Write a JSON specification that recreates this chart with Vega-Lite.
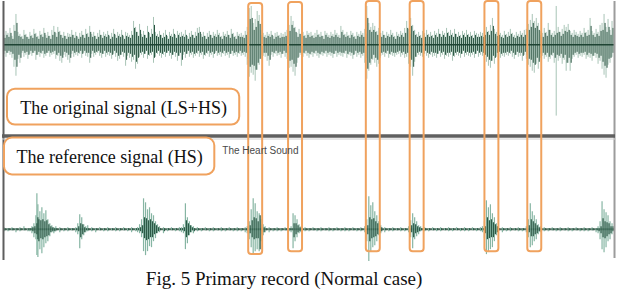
{
"$schema": "https://vega.github.io/schema/vega-lite/v6.json",
"width": 619,
"height": 290,
"autosize": {"type": "fit", "contains": "padding"},
"padding": 0,
"background": "white",
"config": {"view": {"stroke": null}},
"resolve": {"scale": {"y": "independent"}},
"datasets": {
"top": [
{"t":2,"hi":10,"lo":-9,"rh":7,"rl":-6},{"t":4,"hi":14,"lo":-12,"rh":10,"rl":-8},{"t":6,"hi":12,"lo":-8,"rh":8,"rl":-6},{"t":8,"hi":17,"lo":-10,"rh":12,"rl":-7},{"t":10,"hi":9,"lo":-13,"rh":6,"rl":-9},{"t":12,"hi":20,"lo":-22,"rh":14,"rl":-15},{"t":14,"hi":31,"lo":-31,"rh":22,"rl":-22},{"t":16,"hi":13,"lo":-14,"rh":9,"rl":-10},{"t":18,"hi":11,"lo":-18,"rh":8,"rl":-13},{"t":20,"hi":9,"lo":-8,"rh":6,"rl":-6},
{"t":22,"hi":15,"lo":-12,"rh":10,"rl":-8},{"t":24,"hi":11,"lo":-10,"rh":8,"rl":-7},{"t":26,"hi":8,"lo":-14,"rh":6,"rl":-10},{"t":28,"hi":13,"lo":-9,"rh":9,"rl":-6},{"t":30,"hi":10,"lo":-11,"rh":7,"rl":-8},{"t":32,"hi":16,"lo":-8,"rh":11,"rl":-6},{"t":34,"hi":12,"lo":-15,"rh":8,"rl":-10},{"t":36,"hi":9,"lo":-10,"rh":6,"rl":-7},{"t":38,"hi":14,"lo":-12,"rh":10,"rl":-8},{"t":40,"hi":11,"lo":-9,"rh":8,"rl":-6},
{"t":42,"hi":17,"lo":-13,"rh":12,"rl":-9},{"t":44,"hi":10,"lo":-11,"rh":7,"rl":-8},{"t":46,"hi":13,"lo":-8,"rh":9,"rl":-6},{"t":48,"hi":9,"lo":-12,"rh":6,"rl":-8},{"t":50,"hi":15,"lo":-10,"rh":10,"rl":-7},{"t":52,"hi":19,"lo":-9,"rh":13,"rl":-6},{"t":54,"hi":12,"lo":-14,"rh":8,"rl":-10},{"t":56,"hi":18,"lo":-11,"rh":13,"rl":-8},{"t":58,"hi":14,"lo":-16,"rh":10,"rl":-11},{"t":60,"hi":10,"lo":-18,"rh":7,"rl":-13},
{"t":62,"hi":13,"lo":-10,"rh":9,"rl":-7},{"t":64,"hi":9,"lo":-12,"rh":6,"rl":-8},{"t":66,"hi":12,"lo":-15,"rh":8,"rl":-10},{"t":68,"hi":11,"lo":-18,"rh":8,"rl":-13},{"t":70,"hi":15,"lo":-9,"rh":10,"rl":-6},{"t":72,"hi":10,"lo":-12,"rh":7,"rl":-8},{"t":74,"hi":13,"lo":-10,"rh":9,"rl":-7},{"t":76,"hi":8,"lo":-11,"rh":6,"rl":-8},{"t":78,"hi":12,"lo":-9,"rh":8,"rl":-6},{"t":80,"hi":14,"lo":-13,"rh":10,"rl":-9},
{"t":82,"hi":10,"lo":-8,"rh":7,"rl":-6},{"t":84,"hi":16,"lo":-11,"rh":11,"rl":-8},{"t":86,"hi":12,"lo":-12,"rh":8,"rl":-8},{"t":88,"hi":19,"lo":-18,"rh":13,"rl":-13},{"t":90,"hi":11,"lo":-9,"rh":8,"rl":-6},{"t":92,"hi":13,"lo":-12,"rh":9,"rl":-8},{"t":94,"hi":9,"lo":-10,"rh":6,"rl":-7},{"t":96,"hi":12,"lo":-8,"rh":8,"rl":-6},{"t":98,"hi":15,"lo":-11,"rh":10,"rl":-8},{"t":100,"hi":10,"lo":-13,"rh":7,"rl":-9},
{"t":102,"hi":13,"lo":-9,"rh":9,"rl":-6},{"t":104,"hi":11,"lo":-12,"rh":8,"rl":-8},{"t":106,"hi":14,"lo":-10,"rh":10,"rl":-7},{"t":108,"hi":9,"lo":-11,"rh":6,"rl":-8},{"t":110,"hi":12,"lo":-14,"rh":8,"rl":-10},{"t":112,"hi":16,"lo":-9,"rh":11,"rl":-6},{"t":114,"hi":10,"lo":-12,"rh":7,"rl":-8},{"t":116,"hi":13,"lo":-16,"rh":9,"rl":-11},{"t":118,"hi":11,"lo":-14,"rh":8,"rl":-10},{"t":120,"hi":15,"lo":-10,"rh":10,"rl":-7},
{"t":122,"hi":9,"lo":-12,"rh":6,"rl":-8},{"t":124,"hi":13,"lo":-21,"rh":9,"rl":-15},{"t":126,"hi":12,"lo":-11,"rh":8,"rl":-8},{"t":128,"hi":10,"lo":-13,"rh":7,"rl":-9},{"t":130,"hi":14,"lo":-17,"rh":10,"rl":-12},{"t":132,"hi":24,"lo":-15,"rh":17,"rl":-10},{"t":134,"hi":18,"lo":-24,"rh":13,"rl":-17},{"t":136,"hi":13,"lo":-19,"rh":9,"rl":-13},{"t":138,"hi":21,"lo":-12,"rh":15,"rl":-8},{"t":140,"hi":11,"lo":-10,"rh":8,"rl":-7},
{"t":142,"hi":14,"lo":-13,"rh":10,"rl":-9},{"t":144,"hi":10,"lo":-9,"rh":7,"rl":-6},{"t":146,"hi":19,"lo":-14,"rh":13,"rl":-10},{"t":148,"hi":12,"lo":-11,"rh":8,"rl":-8},{"t":150,"hi":16,"lo":-10,"rh":11,"rl":-7},{"t":152,"hi":28,"lo":-18,"rh":20,"rl":-13},{"t":154,"hi":13,"lo":-12,"rh":9,"rl":-8},{"t":156,"hi":11,"lo":-9,"rh":8,"rl":-6},{"t":158,"hi":14,"lo":-11,"rh":10,"rl":-8},{"t":160,"hi":10,"lo":-13,"rh":7,"rl":-9},
{"t":162,"hi":12,"lo":-10,"rh":8,"rl":-7},{"t":164,"hi":15,"lo":-12,"rh":10,"rl":-8},{"t":166,"hi":9,"lo":-8,"rh":6,"rl":-6},{"t":168,"hi":13,"lo":-11,"rh":9,"rl":-8},{"t":170,"hi":11,"lo":-14,"rh":8,"rl":-10},{"t":172,"hi":16,"lo":-10,"rh":11,"rl":-7},{"t":174,"hi":10,"lo":-12,"rh":7,"rl":-8},{"t":176,"hi":14,"lo":-16,"rh":10,"rl":-11},{"t":178,"hi":12,"lo":-11,"rh":8,"rl":-8},{"t":180,"hi":13,"lo":-21,"rh":9,"rl":-15},
{"t":182,"hi":11,"lo":-10,"rh":8,"rl":-7},{"t":184,"hi":15,"lo":-13,"rh":10,"rl":-9},{"t":186,"hi":9,"lo":-9,"rh":6,"rl":-6},{"t":188,"hi":12,"lo":-12,"rh":8,"rl":-8},{"t":190,"hi":14,"lo":-10,"rh":10,"rl":-7},{"t":192,"hi":10,"lo":-13,"rh":7,"rl":-9},{"t":194,"hi":13,"lo":-11,"rh":9,"rl":-8},{"t":196,"hi":17,"lo":-9,"rh":12,"rl":-6},{"t":198,"hi":18,"lo":-12,"rh":13,"rl":-8},{"t":200,"hi":11,"lo":-10,"rh":8,"rl":-7},
{"t":202,"hi":13,"lo":-14,"rh":9,"rl":-10},{"t":204,"hi":9,"lo":-11,"rh":6,"rl":-8},{"t":206,"hi":12,"lo":-9,"rh":8,"rl":-6},{"t":208,"hi":14,"lo":-12,"rh":10,"rl":-8},{"t":210,"hi":10,"lo":-10,"rh":7,"rl":-7},{"t":212,"hi":13,"lo":-13,"rh":9,"rl":-9},{"t":214,"hi":11,"lo":-8,"rh":8,"rl":-6},{"t":216,"hi":15,"lo":-11,"rh":10,"rl":-8},{"t":218,"hi":12,"lo":-10,"rh":8,"rl":-7},{"t":220,"hi":9,"lo":-12,"rh":6,"rl":-8},
{"t":222,"hi":13,"lo":-9,"rh":9,"rl":-6},{"t":224,"hi":11,"lo":-11,"rh":8,"rl":-8},{"t":226,"hi":14,"lo":-10,"rh":10,"rl":-7},{"t":228,"hi":10,"lo":-13,"rh":7,"rl":-9},{"t":230,"hi":16,"lo":-9,"rh":11,"rl":-6},{"t":232,"hi":12,"lo":-11,"rh":8,"rl":-8},{"t":234,"hi":9,"lo":-10,"rh":6,"rl":-7},{"t":236,"hi":13,"lo":-12,"rh":9,"rl":-8},{"t":238,"hi":11,"lo":-9,"rh":8,"rl":-6},{"t":240,"hi":12,"lo":-11,"rh":8,"rl":-8},
{"t":242,"hi":10,"lo":-10,"rh":7,"rl":-7},{"t":244,"hi":14,"lo":-12,"rh":10,"rl":-8},{"t":246,"hi":18,"lo":-20,"rh":13,"rl":-14},{"t":248,"hi":37,"lo":-32,"rh":26,"rl":-22},{"t":250,"hi":39,"lo":-28,"rh":27,"rl":-20},{"t":252,"hi":22,"lo":-30,"rh":15,"rl":-21},{"t":254,"hi":26,"lo":-36,"rh":18,"rl":-25},{"t":256,"hi":34,"lo":-25,"rh":24,"rl":-18},{"t":258,"hi":30,"lo":-20,"rh":21,"rl":-14},{"t":260,"hi":15,"lo":-14,"rh":10,"rl":-10},
{"t":262,"hi":12,"lo":-11,"rh":8,"rl":-8},{"t":264,"hi":10,"lo":-12,"rh":7,"rl":-8},{"t":266,"hi":13,"lo":-16,"rh":9,"rl":-11},{"t":268,"hi":11,"lo":-21,"rh":8,"rl":-15},{"t":270,"hi":14,"lo":-10,"rh":10,"rl":-7},{"t":272,"hi":9,"lo":-12,"rh":6,"rl":-8},{"t":274,"hi":12,"lo":-9,"rh":8,"rl":-6},{"t":276,"hi":13,"lo":-11,"rh":9,"rl":-8},{"t":278,"hi":10,"lo":-10,"rh":7,"rl":-7},{"t":280,"hi":12,"lo":-13,"rh":8,"rl":-9},
{"t":282,"hi":11,"lo":-9,"rh":8,"rl":-6},{"t":284,"hi":13,"lo":-12,"rh":9,"rl":-8},{"t":286,"hi":15,"lo":-14,"rh":10,"rl":-10},{"t":288,"hi":20,"lo":-23,"rh":14,"rl":-16},{"t":290,"hi":29,"lo":-22,"rh":20,"rl":-15},{"t":292,"hi":24,"lo":-27,"rh":17,"rl":-19},{"t":294,"hi":18,"lo":-31,"rh":13,"rl":-22},{"t":296,"hi":12,"lo":-18,"rh":8,"rl":-13},{"t":298,"hi":16,"lo":-12,"rh":11,"rl":-8},{"t":300,"hi":11,"lo":-10,"rh":8,"rl":-7},
{"t":302,"hi":13,"lo":-12,"rh":9,"rl":-8},{"t":304,"hi":10,"lo":-9,"rh":7,"rl":-6},{"t":306,"hi":14,"lo":-11,"rh":10,"rl":-8},{"t":308,"hi":12,"lo":-13,"rh":8,"rl":-9},{"t":310,"hi":13,"lo":-10,"rh":9,"rl":-7},{"t":312,"hi":10,"lo":-12,"rh":7,"rl":-8},{"t":314,"hi":12,"lo":-9,"rh":8,"rl":-6},{"t":316,"hi":15,"lo":-11,"rh":10,"rl":-8},{"t":318,"hi":11,"lo":-13,"rh":8,"rl":-9},{"t":320,"hi":13,"lo":-10,"rh":9,"rl":-7},
{"t":322,"hi":9,"lo":-11,"rh":6,"rl":-8},{"t":324,"hi":14,"lo":-9,"rh":10,"rl":-6},{"t":326,"hi":12,"lo":-12,"rh":8,"rl":-8},{"t":328,"hi":10,"lo":-10,"rh":7,"rl":-7},{"t":330,"hi":13,"lo":-11,"rh":9,"rl":-8},{"t":332,"hi":11,"lo":-13,"rh":8,"rl":-9},{"t":334,"hi":15,"lo":-9,"rh":10,"rl":-6},{"t":336,"hi":12,"lo":-12,"rh":8,"rl":-8},{"t":338,"hi":10,"lo":-10,"rh":7,"rl":-7},{"t":340,"hi":19,"lo":-11,"rh":13,"rl":-8},
{"t":342,"hi":15,"lo":-12,"rh":10,"rl":-8},{"t":344,"hi":11,"lo":-9,"rh":8,"rl":-6},{"t":346,"hi":13,"lo":-13,"rh":9,"rl":-9},{"t":348,"hi":10,"lo":-10,"rh":7,"rl":-7},{"t":350,"hi":14,"lo":-11,"rh":10,"rl":-8},{"t":352,"hi":12,"lo":-14,"rh":8,"rl":-10},{"t":354,"hi":9,"lo":-9,"rh":6,"rl":-6},{"t":356,"hi":13,"lo":-12,"rh":9,"rl":-8},{"t":358,"hi":11,"lo":-10,"rh":8,"rl":-7},{"t":360,"hi":14,"lo":-13,"rh":10,"rl":-9},
{"t":362,"hi":12,"lo":-11,"rh":8,"rl":-8},{"t":364,"hi":16,"lo":-18,"rh":11,"rl":-13},{"t":366,"hi":39,"lo":-34,"rh":27,"rl":-24},{"t":368,"hi":22,"lo":-26,"rh":15,"rl":-18},{"t":370,"hi":18,"lo":-20,"rh":13,"rl":-14},{"t":372,"hi":22,"lo":-15,"rh":15,"rl":-10},{"t":374,"hi":19,"lo":-18,"rh":13,"rl":-13},{"t":376,"hi":14,"lo":-22,"rh":10,"rl":-15},{"t":378,"hi":17,"lo":-19,"rh":12,"rl":-13},{"t":380,"hi":12,"lo":-11,"rh":8,"rl":-8},
{"t":382,"hi":14,"lo":-10,"rh":10,"rl":-7},{"t":384,"hi":10,"lo":-12,"rh":7,"rl":-8},{"t":386,"hi":13,"lo":-9,"rh":9,"rl":-6},{"t":388,"hi":11,"lo":-13,"rh":8,"rl":-9},{"t":390,"hi":15,"lo":-10,"rh":10,"rl":-7},{"t":392,"hi":12,"lo":-11,"rh":8,"rl":-8},{"t":394,"hi":9,"lo":-12,"rh":6,"rl":-8},{"t":396,"hi":13,"lo":-10,"rh":9,"rl":-7},{"t":398,"hi":11,"lo":-9,"rh":8,"rl":-6},{"t":400,"hi":14,"lo":-12,"rh":10,"rl":-8},
{"t":402,"hi":12,"lo":-10,"rh":8,"rl":-7},{"t":404,"hi":17,"lo":-13,"rh":12,"rl":-9},{"t":406,"hi":24,"lo":-12,"rh":17,"rl":-8},{"t":408,"hi":16,"lo":-19,"rh":11,"rl":-13},{"t":410,"hi":27,"lo":-22,"rh":19,"rl":-15},{"t":412,"hi":20,"lo":-31,"rh":14,"rl":-22},{"t":414,"hi":15,"lo":-17,"rh":10,"rl":-12},{"t":416,"hi":11,"lo":-12,"rh":8,"rl":-8},{"t":418,"hi":13,"lo":-10,"rh":9,"rl":-7},{"t":420,"hi":10,"lo":-11,"rh":7,"rl":-8},
{"t":422,"hi":14,"lo":-12,"rh":10,"rl":-8},{"t":424,"hi":12,"lo":-9,"rh":8,"rl":-6},{"t":426,"hi":15,"lo":-11,"rh":10,"rl":-8},{"t":428,"hi":11,"lo":-13,"rh":8,"rl":-9},{"t":430,"hi":13,"lo":-10,"rh":9,"rl":-7},{"t":432,"hi":10,"lo":-12,"rh":7,"rl":-8},{"t":434,"hi":14,"lo":-11,"rh":10,"rl":-8},{"t":436,"hi":12,"lo":-13,"rh":8,"rl":-9},{"t":438,"hi":16,"lo":-9,"rh":11,"rl":-6},{"t":440,"hi":11,"lo":-12,"rh":8,"rl":-8},
{"t":442,"hi":14,"lo":-10,"rh":10,"rl":-7},{"t":444,"hi":12,"lo":-14,"rh":8,"rl":-10},{"t":446,"hi":17,"lo":-11,"rh":12,"rl":-8},{"t":448,"hi":13,"lo":-12,"rh":9,"rl":-8},{"t":450,"hi":15,"lo":-10,"rh":10,"rl":-7},{"t":452,"hi":12,"lo":-16,"rh":8,"rl":-11},{"t":454,"hi":16,"lo":-12,"rh":11,"rl":-8},{"t":456,"hi":11,"lo":-10,"rh":8,"rl":-7},{"t":458,"hi":13,"lo":-11,"rh":9,"rl":-8},{"t":460,"hi":10,"lo":-13,"rh":7,"rl":-9},
{"t":462,"hi":14,"lo":-9,"rh":10,"rl":-6},{"t":464,"hi":12,"lo":-12,"rh":8,"rl":-8},{"t":466,"hi":15,"lo":-10,"rh":10,"rl":-7},{"t":468,"hi":11,"lo":-11,"rh":8,"rl":-8},{"t":470,"hi":13,"lo":-12,"rh":9,"rl":-8},{"t":472,"hi":10,"lo":-10,"rh":7,"rl":-7},{"t":474,"hi":14,"lo":-13,"rh":10,"rl":-9},{"t":476,"hi":12,"lo":-9,"rh":8,"rl":-6},{"t":478,"hi":11,"lo":-12,"rh":8,"rl":-8},{"t":480,"hi":13,"lo":-10,"rh":9,"rl":-7},
{"t":482,"hi":12,"lo":-11,"rh":8,"rl":-8},{"t":484,"hi":14,"lo":-14,"rh":10,"rl":-10},{"t":486,"hi":18,"lo":-17,"rh":13,"rl":-12},{"t":488,"hi":14,"lo":-21,"rh":10,"rl":-15},{"t":490,"hi":20,"lo":-23,"rh":14,"rl":-16},{"t":492,"hi":27,"lo":-16,"rh":19,"rl":-11},{"t":494,"hi":16,"lo":-19,"rh":11,"rl":-13},{"t":496,"hi":13,"lo":-12,"rh":9,"rl":-8},{"t":498,"hi":15,"lo":-10,"rh":10,"rl":-7},{"t":500,"hi":12,"lo":-13,"rh":8,"rl":-9},
{"t":502,"hi":10,"lo":-11,"rh":7,"rl":-8},{"t":504,"hi":14,"lo":-12,"rh":10,"rl":-8},{"t":506,"hi":11,"lo":-10,"rh":8,"rl":-7},{"t":508,"hi":13,"lo":-11,"rh":9,"rl":-8},{"t":510,"hi":16,"lo":-9,"rh":11,"rl":-6},{"t":512,"hi":12,"lo":-12,"rh":8,"rl":-8},{"t":514,"hi":10,"lo":-14,"rh":7,"rl":-10},{"t":516,"hi":13,"lo":-10,"rh":9,"rl":-7},{"t":518,"hi":11,"lo":-12,"rh":8,"rl":-8},{"t":520,"hi":14,"lo":-11,"rh":10,"rl":-8},
{"t":522,"hi":12,"lo":-16,"rh":8,"rl":-11},{"t":524,"hi":15,"lo":-10,"rh":10,"rl":-7},{"t":526,"hi":16,"lo":-14,"rh":11,"rl":-10},{"t":528,"hi":21,"lo":-20,"rh":15,"rl":-14},{"t":530,"hi":25,"lo":-22,"rh":18,"rl":-15},{"t":532,"hi":31,"lo":-26,"rh":22,"rl":-18},{"t":534,"hi":24,"lo":-28,"rh":17,"rl":-20},{"t":536,"hi":27,"lo":-19,"rh":19,"rl":-13},{"t":538,"hi":22,"lo":-24,"rh":15,"rl":-17},{"t":540,"hi":14,"lo":-13,"rh":10,"rl":-9},
{"t":542,"hi":12,"lo":-11,"rh":8,"rl":-8},{"t":544,"hi":17,"lo":-14,"rh":12,"rl":-10},{"t":546,"hi":13,"lo":-12,"rh":9,"rl":-8},{"t":548,"hi":22,"lo":-17,"rh":15,"rl":-12},{"t":550,"hi":15,"lo":-14,"rh":10,"rl":-10},{"t":552,"hi":12,"lo":-11,"rh":8,"rl":-8},{"t":554,"hi":14,"lo":-18,"rh":10,"rl":-13},{"t":556,"hi":39,"lo":-71,"rh":12,"rl":-10},{"t":558,"hi":18,"lo":-16,"rh":13,"rl":-11},{"t":560,"hi":13,"lo":-13,"rh":9,"rl":-9},
{"t":562,"hi":16,"lo":-19,"rh":11,"rl":-13},{"t":564,"hi":20,"lo":-15,"rh":14,"rl":-10},{"t":566,"hi":18,"lo":-26,"rh":13,"rl":-18},{"t":568,"hi":21,"lo":-18,"rh":15,"rl":-13},{"t":570,"hi":14,"lo":-26,"rh":10,"rl":-18},{"t":572,"hi":12,"lo":-14,"rh":8,"rl":-10},{"t":574,"hi":15,"lo":-12,"rh":10,"rl":-8},{"t":576,"hi":13,"lo":-10,"rh":9,"rl":-7},{"t":578,"hi":11,"lo":-13,"rh":8,"rl":-9},{"t":580,"hi":14,"lo":-11,"rh":10,"rl":-8},
{"t":582,"hi":12,"lo":-12,"rh":8,"rl":-8},{"t":584,"hi":17,"lo":-10,"rh":12,"rl":-7},{"t":586,"hi":13,"lo":-14,"rh":9,"rl":-10},{"t":588,"hi":15,"lo":-12,"rh":10,"rl":-8},{"t":590,"hi":27,"lo":-13,"rh":19,"rl":-9},{"t":592,"hi":14,"lo":-16,"rh":10,"rl":-11},{"t":594,"hi":12,"lo":-11,"rh":8,"rl":-8},{"t":596,"hi":16,"lo":-13,"rh":11,"rl":-9},{"t":598,"hi":13,"lo":-19,"rh":9,"rl":-13},{"t":600,"hi":20,"lo":-16,"rh":14,"rl":-11},
{"t":602,"hi":22,"lo":-24,"rh":15,"rl":-17},{"t":604,"hi":31,"lo":-30,"rh":22,"rl":-21},{"t":606,"hi":18,"lo":-33,"rh":13,"rl":-23},{"t":608,"hi":26,"lo":-20,"rh":18,"rl":-14},{"t":610,"hi":15,"lo":-18,"rh":10,"rl":-13},{"t":612,"hi":24,"lo":-12,"rh":17,"rl":-8}
],
"bottom": [
{"t":2,"hi":2,"lo":-2,"rh":1,"rl":-1},{"t":6,"hi":1,"lo":-2,"rh":1,"rl":-1},{"t":10,"hi":2,"lo":-1,"rh":1,"rl":-1},{"t":14,"hi":1,"lo":-3,"rh":1,"rl":-1},{"t":18,"hi":2,"lo":-2,"rh":1,"rl":-1},{"t":22,"hi":3,"lo":-1,"rh":1,"rl":-1},{"t":26,"hi":1,"lo":-2,"rh":1,"rl":-1},
{"t":28,"hi":1,"lo":-2,"rh":1,"rl":-1},{"t":30,"hi":3,"lo":-4,"rh":2,"rl":-2},{"t":32,"hi":6,"lo":-8,"rh":3,"rl":-4},{"t":34,"hi":14,"lo":-10,"rh":6,"rl":-5},{"t":35,"hi":36,"lo":-26,"rh":12,"rl":-10},{"t":36,"hi":25,"lo":-28,"rh":10,"rl":-12},{"t":38,"hi":18,"lo":-20,"rh":9,"rl":-9},{"t":40,"hi":22,"lo":-24,"rh":10,"rl":-10},{"t":42,"hi":16,"lo":-18,"rh":8,"rl":-8},{"t":44,"hi":19,"lo":-14,"rh":9,"rl":-7},{"t":46,"hi":10,"lo":-12,"rh":5,"rl":-6},{"t":48,"hi":6,"lo":-7,"rh":3,"rl":-3},{"t":50,"hi":4,"lo":-3,"rh":2,"rl":-2},{"t":52,"hi":2,"lo":-4,"rh":1,"rl":-2},{"t":54,"hi":3,"lo":-2,"rh":1,"rl":-1},
{"t":58,"hi":2,"lo":-3,"rh":1,"rl":-1},{"t":62,"hi":1,"lo":-2,"rh":1,"rl":-1},{"t":66,"hi":2,"lo":-2,"rh":1,"rl":-1},{"t":70,"hi":1,"lo":-1,"rh":1,"rl":-1},
{"t":74,"hi":2,"lo":-3,"rh":1,"rl":-1},{"t":76,"hi":6,"lo":-5,"rh":3,"rl":-2},{"t":78,"hi":15,"lo":-19,"rh":6,"rl":-8},{"t":80,"hi":12,"lo":-10,"rh":5,"rl":-5},{"t":82,"hi":5,"lo":-6,"rh":2,"rl":-3},{"t":84,"hi":3,"lo":-3,"rh":1,"rl":-1},{"t":86,"hi":4,"lo":-2,"rh":1,"rl":-1},
{"t":90,"hi":2,"lo":-2,"rh":1,"rl":-1},{"t":94,"hi":1,"lo":-3,"rh":1,"rl":-1},{"t":98,"hi":2,"lo":-1,"rh":1,"rl":-1},{"t":102,"hi":1,"lo":-2,"rh":1,"rl":-1},{"t":106,"hi":2,"lo":-2,"rh":1,"rl":-1},{"t":110,"hi":1,"lo":-1,"rh":1,"rl":-1},{"t":114,"hi":2,"lo":-2,"rh":1,"rl":-1},{"t":118,"hi":1,"lo":-2,"rh":1,"rl":-1},{"t":122,"hi":2,"lo":-1,"rh":1,"rl":-1},{"t":126,"hi":1,"lo":-2,"rh":1,"rl":-1},{"t":130,"hi":2,"lo":-3,"rh":1,"rl":-1},{"t":134,"hi":1,"lo":-2,"rh":1,"rl":-1},
{"t":136,"hi":2,"lo":-3,"rh":1,"rl":-1},{"t":138,"hi":5,"lo":-4,"rh":2,"rl":-2},{"t":140,"hi":10,"lo":-8,"rh":4,"rl":-4},{"t":142,"hi":31,"lo":-22,"rh":12,"rl":-9},{"t":144,"hi":27,"lo":-26,"rh":11,"rl":-11},{"t":146,"hi":20,"lo":-22,"rh":9,"rl":-10},{"t":148,"hi":22,"lo":-17,"rh":10,"rl":-8},{"t":150,"hi":16,"lo":-18,"rh":8,"rl":-8},{"t":152,"hi":14,"lo":-12,"rh":6,"rl":-5},{"t":154,"hi":8,"lo":-9,"rh":4,"rl":-4},{"t":156,"hi":5,"lo":-4,"rh":2,"rl":-2},{"t":158,"hi":3,"lo":-3,"rh":1,"rl":-1},
{"t":162,"hi":2,"lo":-4,"rh":1,"rl":-2},{"t":166,"hi":1,"lo":-2,"rh":1,"rl":-1},{"t":170,"hi":2,"lo":-1,"rh":1,"rl":-1},{"t":174,"hi":1,"lo":-2,"rh":1,"rl":-1},{"t":178,"hi":2,"lo":-2,"rh":1,"rl":-1},
{"t":180,"hi":2,"lo":-3,"rh":1,"rl":-1},{"t":182,"hi":5,"lo":-4,"rh":2,"rl":-2},{"t":184,"hi":26,"lo":-20,"rh":9,"rl":-8},{"t":186,"hi":12,"lo":-14,"rh":6,"rl":-6},{"t":188,"hi":8,"lo":-6,"rh":4,"rl":-3},{"t":190,"hi":4,"lo":-3,"rh":2,"rl":-1},{"t":192,"hi":3,"lo":-4,"rh":1,"rl":-2},
{"t":196,"hi":2,"lo":-2,"rh":1,"rl":-1},{"t":200,"hi":1,"lo":-2,"rh":1,"rl":-1},{"t":204,"hi":2,"lo":-1,"rh":1,"rl":-1},{"t":208,"hi":1,"lo":-2,"rh":1,"rl":-1},{"t":212,"hi":2,"lo":-2,"rh":1,"rl":-1},{"t":216,"hi":1,"lo":-1,"rh":1,"rl":-1},{"t":220,"hi":2,"lo":-2,"rh":1,"rl":-1},{"t":224,"hi":1,"lo":-2,"rh":1,"rl":-1},{"t":228,"hi":2,"lo":-1,"rh":1,"rl":-1},{"t":232,"hi":1,"lo":-2,"rh":1,"rl":-1},{"t":236,"hi":2,"lo":-2,"rh":1,"rl":-1},{"t":240,"hi":1,"lo":-2,"rh":1,"rl":-1},{"t":244,"hi":2,"lo":-3,"rh":1,"rl":-1},
{"t":246,"hi":3,"lo":-4,"rh":1,"rl":-2},{"t":248,"hi":8,"lo":-10,"rh":4,"rl":-4},{"t":250,"hi":20,"lo":-18,"rh":9,"rl":-8},{"t":252,"hi":31,"lo":-24,"rh":12,"rl":-10},{"t":254,"hi":26,"lo":-22,"rh":11,"rl":-9},{"t":256,"hi":18,"lo":-20,"rh":8,"rl":-9},{"t":258,"hi":16,"lo":-22,"rh":14,"rl":-20},{"t":260,"hi":10,"lo":-12,"rh":5,"rl":-5},{"t":262,"hi":5,"lo":-6,"rh":2,"rl":-3},{"t":264,"hi":3,"lo":-3,"rh":1,"rl":-1},
{"t":268,"hi":2,"lo":-3,"rh":1,"rl":-1},{"t":272,"hi":1,"lo":-2,"rh":1,"rl":-1},{"t":276,"hi":2,"lo":-2,"rh":1,"rl":-1},{"t":280,"hi":1,"lo":-2,"rh":1,"rl":-1},{"t":284,"hi":2,"lo":-1,"rh":1,"rl":-1},{"t":288,"hi":1,"lo":-2,"rh":1,"rl":-1},
{"t":290,"hi":3,"lo":-3,"rh":1,"rl":-1},{"t":292,"hi":16,"lo":-19,"rh":6,"rl":-8},{"t":294,"hi":14,"lo":-12,"rh":6,"rl":-5},{"t":296,"hi":10,"lo":-8,"rh":4,"rl":-3},{"t":298,"hi":5,"lo":-4,"rh":2,"rl":-2},{"t":300,"hi":3,"lo":-3,"rh":1,"rl":-1},
{"t":304,"hi":2,"lo":-2,"rh":1,"rl":-1},{"t":308,"hi":1,"lo":-2,"rh":1,"rl":-1},{"t":312,"hi":2,"lo":-1,"rh":1,"rl":-1},{"t":316,"hi":1,"lo":-2,"rh":1,"rl":-1},{"t":320,"hi":2,"lo":-2,"rh":1,"rl":-1},{"t":324,"hi":1,"lo":-1,"rh":1,"rl":-1},{"t":328,"hi":2,"lo":-2,"rh":1,"rl":-1},{"t":332,"hi":1,"lo":-2,"rh":1,"rl":-1},{"t":336,"hi":2,"lo":-1,"rh":1,"rl":-1},{"t":340,"hi":1,"lo":-2,"rh":1,"rl":-1},{"t":344,"hi":2,"lo":-2,"rh":1,"rl":-1},{"t":348,"hi":1,"lo":-2,"rh":1,"rl":-1},{"t":352,"hi":2,"lo":-1,"rh":1,"rl":-1},{"t":356,"hi":1,"lo":-2,"rh":1,"rl":-1},{"t":360,"hi":2,"lo":-2,"rh":1,"rl":-1},
{"t":364,"hi":3,"lo":-3,"rh":1,"rl":-1},{"t":366,"hi":10,"lo":-12,"rh":4,"rl":-5},{"t":368,"hi":33,"lo":-32,"rh":12,"rl":-12},{"t":370,"hi":24,"lo":-22,"rh":10,"rl":-9},{"t":372,"hi":27,"lo":-18,"rh":11,"rl":-8},{"t":374,"hi":18,"lo":-16,"rh":8,"rl":-7},{"t":376,"hi":14,"lo":-12,"rh":6,"rl":-5},{"t":378,"hi":8,"lo":-6,"rh":3,"rl":-3},{"t":380,"hi":4,"lo":-4,"rh":2,"rl":-2},
{"t":384,"hi":2,"lo":-3,"rh":1,"rl":-1},{"t":388,"hi":1,"lo":-2,"rh":1,"rl":-1},{"t":392,"hi":2,"lo":-2,"rh":1,"rl":-1},{"t":396,"hi":1,"lo":-1,"rh":1,"rl":-1},{"t":400,"hi":2,"lo":-2,"rh":1,"rl":-1},{"t":404,"hi":1,"lo":-2,"rh":1,"rl":-1},
{"t":408,"hi":3,"lo":-3,"rh":1,"rl":-1},{"t":410,"hi":9,"lo":-8,"rh":4,"rl":-3},{"t":412,"hi":16,"lo":-19,"rh":6,"rl":-8},{"t":414,"hi":12,"lo":-10,"rh":5,"rl":-4},{"t":416,"hi":8,"lo":-7,"rh":3,"rl":-3},{"t":418,"hi":4,"lo":-5,"rh":2,"rl":-2},{"t":420,"hi":3,"lo":-2,"rh":1,"rl":-1},
{"t":424,"hi":2,"lo":-2,"rh":1,"rl":-1},{"t":428,"hi":1,"lo":-2,"rh":1,"rl":-1},{"t":432,"hi":2,"lo":-1,"rh":1,"rl":-1},{"t":436,"hi":1,"lo":-2,"rh":1,"rl":-1},{"t":440,"hi":2,"lo":-2,"rh":1,"rl":-1},{"t":444,"hi":1,"lo":-1,"rh":1,"rl":-1},{"t":448,"hi":2,"lo":-2,"rh":1,"rl":-1},{"t":452,"hi":1,"lo":-2,"rh":1,"rl":-1},{"t":456,"hi":2,"lo":-1,"rh":1,"rl":-1},{"t":460,"hi":1,"lo":-2,"rh":1,"rl":-1},{"t":464,"hi":2,"lo":-2,"rh":1,"rl":-1},{"t":468,"hi":1,"lo":-2,"rh":1,"rl":-1},{"t":472,"hi":2,"lo":-1,"rh":1,"rl":-1},{"t":476,"hi":1,"lo":-2,"rh":1,"rl":-1},{"t":480,"hi":2,"lo":-2,"rh":1,"rl":-1},
{"t":482,"hi":3,"lo":-3,"rh":1,"rl":-1},{"t":484,"hi":8,"lo":-9,"rh":3,"rl":-4},{"t":486,"hi":29,"lo":-25,"rh":12,"rl":-10},{"t":488,"hi":22,"lo":-22,"rh":9,"rl":-9},{"t":490,"hi":25,"lo":-20,"rh":10,"rl":-8},{"t":492,"hi":16,"lo":-18,"rh":7,"rl":-8},{"t":494,"hi":12,"lo":-12,"rh":5,"rl":-5},{"t":496,"hi":6,"lo":-6,"rh":3,"rl":-3},{"t":498,"hi":3,"lo":-3,"rh":1,"rl":-1},
{"t":502,"hi":2,"lo":-3,"rh":1,"rl":-1},{"t":506,"hi":1,"lo":-2,"rh":1,"rl":-1},{"t":510,"hi":2,"lo":-2,"rh":1,"rl":-1},{"t":514,"hi":1,"lo":-1,"rh":1,"rl":-1},{"t":518,"hi":2,"lo":-2,"rh":1,"rl":-1},{"t":522,"hi":1,"lo":-2,"rh":1,"rl":-1},
{"t":526,"hi":3,"lo":-3,"rh":1,"rl":-1},{"t":528,"hi":10,"lo":-8,"rh":4,"rl":-3},{"t":530,"hi":26,"lo":-18,"rh":10,"rl":-7},{"t":532,"hi":18,"lo":-16,"rh":8,"rl":-7},{"t":534,"hi":14,"lo":-12,"rh":6,"rl":-5},{"t":536,"hi":10,"lo":-10,"rh":4,"rl":-4},{"t":538,"hi":5,"lo":-5,"rh":2,"rl":-2},{"t":540,"hi":3,"lo":-3,"rh":1,"rl":-1},
{"t":544,"hi":2,"lo":-2,"rh":1,"rl":-1},{"t":548,"hi":1,"lo":-2,"rh":1,"rl":-1},{"t":552,"hi":2,"lo":-1,"rh":1,"rl":-1},{"t":556,"hi":1,"lo":-2,"rh":1,"rl":-1},{"t":560,"hi":2,"lo":-2,"rh":1,"rl":-1},{"t":564,"hi":1,"lo":-1,"rh":1,"rl":-1},{"t":568,"hi":2,"lo":-2,"rh":1,"rl":-1},{"t":572,"hi":1,"lo":-2,"rh":1,"rl":-1},{"t":576,"hi":2,"lo":-1,"rh":1,"rl":-1},{"t":580,"hi":1,"lo":-2,"rh":1,"rl":-1},{"t":584,"hi":2,"lo":-2,"rh":1,"rl":-1},{"t":588,"hi":1,"lo":-2,"rh":1,"rl":-1},{"t":592,"hi":2,"lo":-1,"rh":1,"rl":-1},{"t":596,"hi":1,"lo":-3,"rh":1,"rl":-1},
{"t":598,"hi":3,"lo":-4,"rh":1,"rl":-2},{"t":600,"hi":8,"lo":-10,"rh":3,"rl":-4},{"t":602,"hi":28,"lo":-20,"rh":11,"rl":-8},{"t":604,"hi":20,"lo":-23,"rh":8,"rl":-9},{"t":606,"hi":17,"lo":-18,"rh":7,"rl":-7},{"t":608,"hi":14,"lo":-12,"rh":6,"rl":-5},{"t":610,"hi":8,"lo":-10,"rh":3,"rl":-4},{"t":612,"hi":6,"lo":-5,"rh":3,"rl":-2}
],
"bands": [
{"x0":247,"x1":261,"y0":2,"y1":254},
{"x0":287,"x1":301,"y0":1,"y1":251},
{"x0":365,"x1":379,"y0":0,"y1":251},
{"x0":409,"x1":423,"y0":0,"y1":251},
{"x0":484,"x1":498,"y0":0,"y1":251},
{"x0":527,"x1":541,"y0":0,"y1":251}
],
"labelBoxes": [
{"x0":5,"x1":238,"y0":88,"y1":124},
{"x0":2,"x1":213,"y0":137,"y1":174}
],
"serifLabels": [
{"x":122,"y":113,"text":"The original signal (LS+HS)"},
{"x":108,"y":163,"text":"The reference signal (HS)"}
]
},
"layer": [
{
"data": {"name": "top"},
"mark": {"type": "rule", "color": "#a8c4b6", "strokeWidth": 1},
"encoding": {
"x": {"field": "t", "type": "quantitative", "scale": {"domain": [0, 619], "nice": false, "zero": false}, "axis": null},
"y": {"field": "hi", "type": "quantitative", "scale": {"domain": [-246, 44], "nice": false, "zero": false}, "axis": null},
"y2": {"field": "lo"}
}
},
{
"data": {"name": "top"},
"mark": {"type": "rule", "color": "#2a5542", "strokeWidth": 1, "xOffset": 1},
"encoding": {
"x": {"field": "t", "type": "quantitative", "scale": {"domain": [0, 619], "nice": false, "zero": false}, "axis": null},
"y": {"field": "rh", "type": "quantitative", "scale": {"domain": [-246, 44], "nice": false, "zero": false}, "axis": null},
"y2": {"field": "rl"}
}
},
{
"data": {"values": [{"from": 2, "to": 615, "amp": 0}]},
"mark": {"type": "rule", "color": "#1f4434", "strokeWidth": 1.5},
"encoding": {
"x": {"field": "from", "type": "quantitative", "scale": {"domain": [0, 619], "nice": false, "zero": false}, "axis": null},
"x2": {"field": "to"},
"y": {"field": "amp", "type": "quantitative", "scale": {"domain": [-246, 44], "nice": false, "zero": false}, "axis": null}
}
},
{
"data": {"values": [{"from": 2, "to": 615, "amp": 0}]},
"mark": {"type": "rule", "color": "#4f6a5d", "strokeWidth": 2},
"encoding": {
"x": {"field": "from", "type": "quantitative", "scale": {"domain": [0, 619], "nice": false, "zero": false}, "axis": null},
"x2": {"field": "to"},
"y": {"field": "amp", "type": "quantitative", "scale": {"domain": [-61, 229], "nice": false, "zero": false}, "axis": null}
}
},
{
"data": {"name": "bottom"},
"mark": {"type": "rule", "color": "#86b5a3", "strokeWidth": 1.2},
"encoding": {
"x": {"field": "t", "type": "quantitative", "scale": {"domain": [0, 619], "nice": false, "zero": false}, "axis": null},
"y": {"field": "hi", "type": "quantitative", "scale": {"domain": [-61, 229], "nice": false, "zero": false}, "axis": null},
"y2": {"field": "lo"}
}
},
{
"data": {"name": "bottom"},
"mark": {"type": "rule", "color": "#2c5a47", "strokeWidth": 1.2, "xOffset": 1},
"encoding": {
"x": {"field": "t", "type": "quantitative", "scale": {"domain": [0, 619], "nice": false, "zero": false}, "axis": null},
"y": {"field": "rh", "type": "quantitative", "scale": {"domain": [-61, 229], "nice": false, "zero": false}, "axis": null},
"y2": {"field": "rl"}
}
},
{
"data": {"values": [{"x0": 1.5, "x1": 1.5, "y0": 0, "y1": 260}]},
"mark": {"type": "rule", "color": "#5e5e5e", "strokeWidth": 2},
"encoding": {
"x": {"field": "x0", "type": "quantitative", "scale": {"domain": [0, 619], "nice": false, "zero": false}, "axis": null},
"x2": {"field": "x1"},
"y": {"field": "y0", "type": "quantitative", "scale": {"domain": [0, 290], "reverse": true, "nice": false, "zero": false}, "axis": null},
"y2": {"field": "y1"}
}
},
{
"data": {"values": [{"x0": 614.5, "x1": 614.5, "y0": 0, "y1": 258}]},
"mark": {"type": "rule", "color": "#9c9c9c", "strokeWidth": 2},
"encoding": {
"x": {"field": "x0", "type": "quantitative", "scale": {"domain": [0, 619], "nice": false, "zero": false}, "axis": null},
"x2": {"field": "x1"},
"y": {"field": "y0", "type": "quantitative", "scale": {"domain": [0, 290], "reverse": true, "nice": false, "zero": false}, "axis": null},
"y2": {"field": "y1"}
}
},
{
"data": {"values": [{"x0": 0, "x1": 615, "y0": 135.5, "y1": 135.5}]},
"mark": {"type": "rule", "color": "#606060", "strokeWidth": 3.5},
"encoding": {
"x": {"field": "x0", "type": "quantitative", "scale": {"domain": [0, 619], "nice": false, "zero": false}, "axis": null},
"x2": {"field": "x1"},
"y": {"field": "y0", "type": "quantitative", "scale": {"domain": [0, 290], "reverse": true, "nice": false, "zero": false}, "axis": null},
"y2": {"field": "y1"}
}
},
{
"data": {"values": [{"x0": 0, "x1": 615, "y0": 138.5, "y1": 138.5}]},
"mark": {"type": "rule", "color": "#cfcfcf", "strokeWidth": 1},
"encoding": {
"x": {"field": "x0", "type": "quantitative", "scale": {"domain": [0, 619], "nice": false, "zero": false}, "axis": null},
"x2": {"field": "x1"},
"y": {"field": "y0", "type": "quantitative", "scale": {"domain": [0, 290], "reverse": true, "nice": false, "zero": false}, "axis": null},
"y2": {"field": "y1"}
}
},
{
"data": {"name": "labelBoxes"},
"mark": {"type": "rect", "fill": "white", "stroke": "#f0a25e", "strokeWidth": 2, "cornerRadius": 8},
"encoding": {
"x": {"field": "x0", "type": "quantitative", "scale": {"domain": [0, 619], "nice": false, "zero": false}, "axis": null},
"x2": {"field": "x1"},
"y": {"field": "y0", "type": "quantitative", "scale": {"domain": [0, 290], "reverse": true, "nice": false, "zero": false}, "axis": null},
"y2": {"field": "y1"}
}
},
{
"data": {"name": "bands"},
"mark": {"type": "rect", "fill": null, "fillOpacity": 0, "stroke": "#f0a25e", "strokeWidth": 2, "cornerRadius": 3},
"encoding": {
"x": {"field": "x0", "type": "quantitative", "scale": {"domain": [0, 619], "nice": false, "zero": false}, "axis": null},
"x2": {"field": "x1"},
"y": {"field": "y0", "type": "quantitative", "scale": {"domain": [0, 290], "reverse": true, "nice": false, "zero": false}, "axis": null},
"y2": {"field": "y1"}
}
},
{
"data": {"name": "serifLabels"},
"mark": {"type": "text", "font": "Liberation Serif", "fontSize": 18, "color": "#111111", "align": "center", "baseline": "alphabetic"},
"encoding": {
"x": {"field": "x", "type": "quantitative", "scale": {"domain": [0, 619], "nice": false, "zero": false}, "axis": null},
"y": {"field": "y", "type": "quantitative", "scale": {"domain": [0, 290], "reverse": true, "nice": false, "zero": false}, "axis": null},
"text": {"field": "text"}
}
},
{
"data": {"values": [{"x": 221, "y": 154, "text": "The Heart Sound"}]},
"mark": {"type": "text", "font": "Liberation Sans", "fontSize": 10, "color": "#4a4a4a", "align": "left", "baseline": "alphabetic"},
"encoding": {
"x": {"field": "x", "type": "quantitative", "scale": {"domain": [0, 619], "nice": false, "zero": false}, "axis": null},
"y": {"field": "y", "type": "quantitative", "scale": {"domain": [0, 290], "reverse": true, "nice": false, "zero": false}, "axis": null},
"text": {"field": "text"}
}
},
{
"data": {"values": [{"x": 283, "y": 285, "text": "Fig. 5 Primary record (Normal case)"}]},
"mark": {"type": "text", "font": "Liberation Serif", "fontSize": 19, "color": "#111111", "align": "center", "baseline": "alphabetic"},
"encoding": {
"x": {"field": "x", "type": "quantitative", "scale": {"domain": [0, 619], "nice": false, "zero": false}, "axis": null},
"y": {"field": "y", "type": "quantitative", "scale": {"domain": [0, 290], "reverse": true, "nice": false, "zero": false}, "axis": null},
"text": {"field": "text"}
}
}
]
}
